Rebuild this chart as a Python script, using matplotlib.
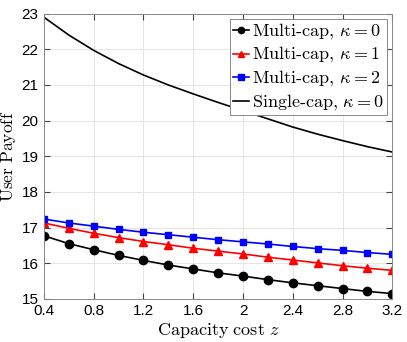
import numpy as np
import matplotlib.pyplot as plt

plt.rcParams['mathtext.fontset'] = 'cm'
plt.rcParams['font.family'] = ['Liberation Sans', 'DejaVu Sans']

# capacity cost values
z = [0.4, 0.6, 0.8, 1.0, 1.2, 1.4, 1.6, 1.8, 2.0, 2.2, 2.4, 2.6, 2.8, 3.0, 3.2]

# user payoff
multi_k0 = [16.77, 16.55, 16.38, 16.22, 16.08, 15.95, 15.84, 15.73, 15.64, 15.54,
            15.45, 15.37, 15.29, 15.21, 15.15]
multi_k1 = [17.13, 16.98, 16.84, 16.72, 16.61, 16.52, 16.42, 16.34, 16.26, 16.17,
            16.09, 16.01, 15.93, 15.86, 15.80]
multi_k2 = [17.24, 17.13, 17.04, 16.95, 16.87, 16.80, 16.73, 16.66, 16.60, 16.54,
            16.47, 16.41, 16.36, 16.30, 16.25]
single_k0 = [22.90, 22.40, 21.97, 21.60, 21.28, 21.00, 20.75, 20.51, 20.28, 20.05,
             19.82, 19.62, 19.44, 19.27, 19.12]

fig = plt.figure(figsize=(4.07, 3.42), dpi=100)
ax = fig.add_axes([0.108, 0.126, 0.856, 0.834])

ax.plot(z, multi_k0, '-o', color='k', lw=1.2, ms=6, label=r'$\mathrm{Multi\text{-}cap},\,\kappa=0$')
ax.plot(z, multi_k1, '-^', color='r', lw=1.2, ms=6, label=r'$\mathrm{Multi\text{-}cap},\,\kappa=1$')
ax.plot(z, multi_k2, '-s', color='b', lw=1.2, ms=5, label=r'$\mathrm{Multi\text{-}cap},\,\kappa=2$')
ax.plot(z, single_k0, '-', color='k', lw=1.2, label=r'$\mathrm{Single\text{-}cap},\,\kappa=0$')

ax.set_xlim(0.4, 3.2)
ax.set_ylim(15, 23)
ax.set_xticks([0.4, 0.8, 1.2, 1.6, 2, 2.4, 2.8, 3.2])
ax.set_xticklabels(['0.4', '0.8', '1.2', '1.6', '2', '2.4', '2.8', '3.2'])
ax.set_yticks(range(15, 24))
ax.tick_params(direction='in', top=True, right=True, labelsize=11, length=4,
               color='#444444', pad=4)
ax.grid(True, color='#e6e6e6', lw=0.7)
for s in ax.spines.values():
    s.set_color('#888888')
    s.set_linewidth(0.7)

ax.set_xlabel(r'$\mathrm{Capacity\ cost}\ z$', fontsize=13, labelpad=2)
ax.set_ylabel(r'$\mathrm{User\ Payoff}$', fontsize=12.5)
ax.yaxis.set_label_coords(-0.075, 0.5)

leg = ax.legend(loc='upper right', fontsize=13, fancybox=False, framealpha=1,
                edgecolor='#888888', handlelength=0.9, handletextpad=0.15,
                borderpad=0.15, labelspacing=0.2, borderaxespad=0.3, markerscale=0.75)
leg.get_frame().set_linewidth(0.7)

fig.savefig('out.png', dpi=100)
